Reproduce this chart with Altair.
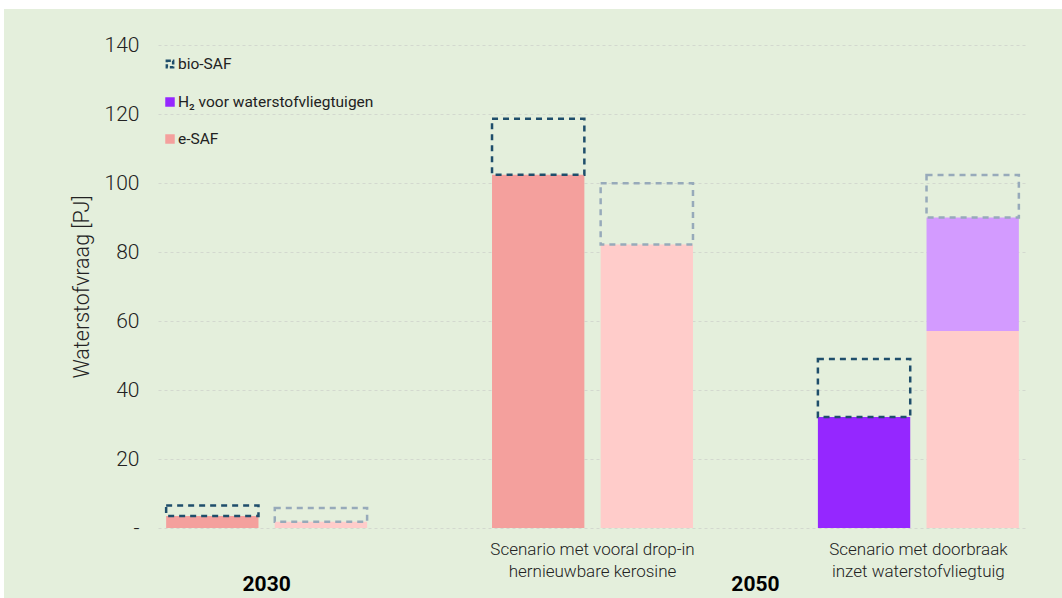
import altair as alt
import pandas as pd

# ---------------- data ----------------
slots = ["a", "b", "c", "d", "e", "f", "g", "h"]          # 8 column slots (c and f are gaps)
bar_slots = ["a", "b", "d", "e", "g", "h"]
bar_shade = ["dark", "light", "dark", "light", "dark", "light"]
esaf = [3.5, 1.8, 102.4, 82.2, 0.0, 57.1]
h2 = [0.0, 0.0, 0.0, 0.0, 32.2, 32.9]
bio = [3.0, 4.0, 16.2, 17.7, 16.8, 12.3]
components = ["e-SAF", "H2", "bio-SAF"]

year_labels = ["2030", "2050"]
year_slots = ["a", "f"]
scenario_labels = ["Scenario met vooral drop-in\nhernieuwbare kerosine",
                   "Scenario met doorbraak\ninzet waterstofvliegtuig"]
scenario_slots = ["d", "g"]
legend_labels = ["bio-SAF", "H₂ voor waterstofvliegtuigen", "e-SAF"]
y_ticks = [0, 20, 40, 60, 80, 100, 120, 140]

# ---------------- styles ----------------
BG = "#E4EFDC"
ESAF_D, ESAF_L = "#F4A09D", "#FFCCCA"
H2_D, H2_L = "#9527FF", "#D39BFF"
BIO_D, BIO_L = "#1F4E6B", "#97AABA"
TXT = "#222222"

W, H = 869, 483
PAD_L, PAD_T, PAD_R, PAD_B = 158, 45, 35, 70
step = W / len(slots)

rows = []
for comp, vals in [("e-SAF", esaf), ("H2", h2), ("bio-SAF", bio)]:
    for s, sh, v in zip(bar_slots, bar_shade, vals):
        rows.append({"slot": s, "component": comp, "key": f"{comp} {sh}",
                     "value": v, "order": components.index(comp)})
df = pd.DataFrame(rows)

keys = ["e-SAF dark", "e-SAF light", "H2 dark", "H2 light", "bio-SAF dark", "bio-SAF light"]
fill_range = [ESAF_D, ESAF_L, H2_D, H2_L, "transparent", "transparent"]
stroke_range = ["transparent"] * 4 + [BIO_D, BIO_L]

xscale = alt.Scale(domain=slots, paddingInner=0.15, paddingOuter=0.075)

bars = alt.Chart(df).mark_bar(strokeDash=[6, 5], strokeWidth=2.5).encode(
    x=alt.X("slot:N", scale=xscale, axis=None),
    y=alt.Y("value:Q", stack="zero",
            scale=alt.Scale(domain=[0, 140], nice=False),
            axis=alt.Axis(values=y_ticks, title="Waterstofvraag [PJ]",
                          labelExpr="datum.value == 0 ? '-' : datum.label")),
    fill=alt.Fill("key:N", scale=alt.Scale(domain=keys, range=fill_range), legend=None),
    stroke=alt.Stroke("key:N", scale=alt.Scale(domain=keys, range=stroke_range), legend=None),
    order=alt.Order("order:Q"),
)

# white margins outside the green panel (top strip and left strip)
white_top = alt.Chart(pd.DataFrame({"k": [0]})).mark_rect(color="white").encode(
    x=alt.value(-PAD_L), x2=alt.value(W + PAD_R), y=alt.value(-PAD_T), y2=alt.value(-PAD_T + 9))
white_left = alt.Chart(pd.DataFrame({"k": [0]})).mark_rect(color="white").encode(
    x=alt.value(-PAD_L), x2=alt.value(-PAD_L + 4), y=alt.value(-PAD_T), y2=alt.value(H + PAD_B))

scen_df = pd.DataFrame({"slot": scenario_slots, "label": scenario_labels})
scen_text = alt.Chart(scen_df).mark_text(
    font="Roboto", fontSize=17, fontWeight=300, color=TXT, align="center", baseline="top",
    lineBreak="\n", lineHeight=22, dx=step / 2).encode(
    x=alt.X("slot:N", scale=xscale, axis=None), y=alt.value(H + 14), text="label:N")

y1 = alt.Chart(pd.DataFrame({"slot": year_slots[:1], "label": year_labels[:1]})).mark_text(
    font="Roboto", fontSize=21, fontWeight="bold", color="black", align="center",
    baseline="middle", dx=step / 2).encode(
    x=alt.X("slot:N", scale=xscale, axis=None), y=alt.value(H + 57), text="label:N")
y2 = alt.Chart(pd.DataFrame({"slot": year_slots[1:], "label": year_labels[1:]})).mark_text(
    font="Roboto", fontSize=21, fontWeight="bold", color="black", align="center",
    baseline="middle").encode(
    x=alt.X("slot:N", scale=xscale, axis=None), y=alt.value(H + 57), text="label:N")

# legend (top left inside plot)
leg_y = [19, 57, 94]
legend_layers = []
one = pd.DataFrame({"k": [0]})
legend_layers.append(alt.Chart(one).mark_point(
    shape="square", filled=False, color=BIO_D, opacity=1, strokeWidth=2.5, strokeDash=[4, 2], size=40).encode(
    x=alt.value(12), y=alt.value(leg_y[0])))
legend_layers.append(alt.Chart(one).mark_point(
    shape="square", filled=True, color=H2_D, opacity=1, size=90).encode(
    x=alt.value(12), y=alt.value(leg_y[1])))
legend_layers.append(alt.Chart(one).mark_point(
    shape="square", filled=True, color=ESAF_D, opacity=1, size=90).encode(
    x=alt.value(12), y=alt.value(leg_y[2])))
for lab, yy in zip(legend_labels, leg_y):
    legend_layers.append(alt.Chart(pd.DataFrame({"label": [lab]})).mark_text(
        font="Roboto", fontSize=15.5, color=TXT, align="left", baseline="middle").encode(
        x=alt.value(20), y=alt.value(yy), text="label:N"))

chart = alt.layer(bars, scen_text, y1, y2, *legend_layers, white_top, white_left).properties(
    width=W, height=H,
    autosize=alt.AutoSizeParams(type="none"),
    padding={"left": PAD_L, "top": PAD_T, "right": PAD_R, "bottom": PAD_B},
    background=BG,
).configure_view(strokeWidth=0).configure_axisY(
    domain=False, ticks=False,
    labelFont="Roboto", labelFontSize=21, labelFontWeight=300, labelColor=TXT, labelPadding=19,
    titleFont="Roboto", titleFontSize=21.5, titleFontWeight=300, titleColor=TXT, titlePadding=11,
    gridColor="#D3D8CF", gridDash=[3, 3], gridWidth=1,
)

chart.save("out.html", embed_options={"renderer": "svg", "actions": False})
